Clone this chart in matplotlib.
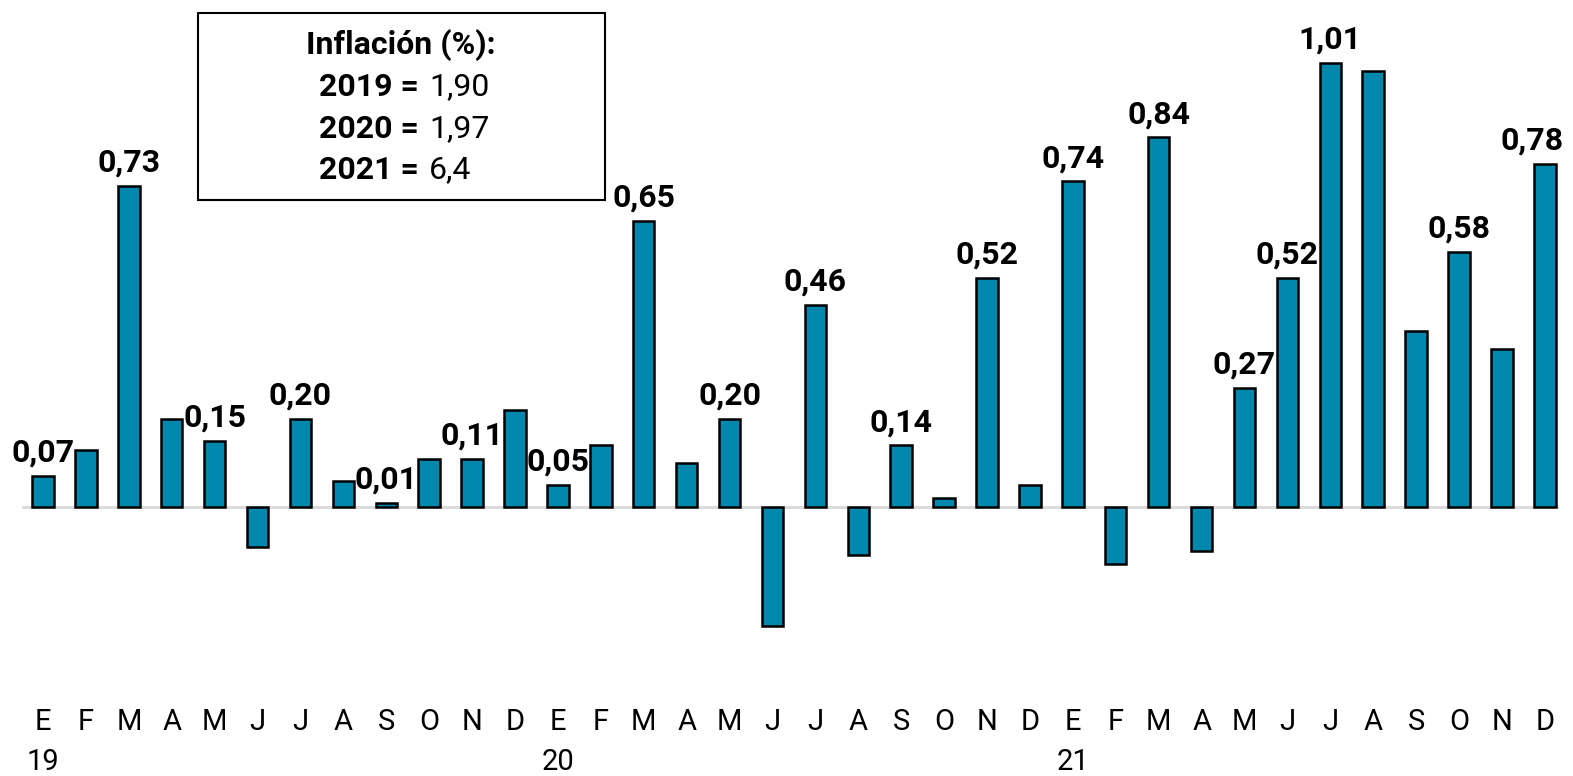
import matplotlib.pyplot as plt
import matplotlib.patches as patches
import matplotlib.transforms as transforms
import numpy as np

plt.rcParams["font.family"] = ["Roboto", "DejaVu Sans"]

# monthly inflation (%), E-2019 .. D-2021
months = ["E", "F", "M", "A", "M", "J", "J", "A", "S", "O", "N", "D"] * 3
years = ["19", "20", "21"]
values = [0.07, 0.13, 0.73, 0.20, 0.15, -0.09, 0.20, 0.06, 0.01, 0.11, 0.11, 0.22,
          0.05, 0.14, 0.65, 0.10, 0.20, -0.27, 0.46, -0.11, 0.14, 0.02, 0.52, 0.05,
          0.74, -0.13, 0.84, -0.10, 0.27, 0.52, 1.01, 0.99, 0.40, 0.58, 0.36, 0.78]
# bars that carry a value label
labelled = [0, 2, 4, 6, 8, 10, 12, 14, 16, 18, 20, 22, 24, 26, 28, 29, 30, 33, 35]

box_title = "Inflación (%):"
box_years = ["2019 =", "2020 =", "2021 ="]
box_vals = ["1,90", "1,97", "6,4"]

W, H = 1573, 776
fig = plt.figure(figsize=(W / 100, H / 100), dpi=100)
ax = fig.add_axes([0, 0, 1, 1])
ax.axis("off")

x = np.arange(len(values))
step = 42.91
ax.set_xlim(-43 / step, (W - 43) / step)
ax.set_ylim((507 - H) / 440, 507 / 440)

ax.axhline(0, xmin=23 / W, xmax=1557 / W, color="#d9d9d9", lw=2, zorder=1)
rects = ax.bar(x, values, 0.5, color="#0087ae", edgecolor="black", lw=1.8, zorder=2)

for i in labelled:
    lab = ("%.2f" % values[i]).replace(".", ",")
    dx = -9 if i == len(values) - 1 else 0   # last label pulled in from the edge
    ax.annotate(lab, (x[i], values[i]), xytext=(dx, 6), textcoords="offset points",
                ha="center", va="bottom", fontsize=23, fontweight="bold", color="black")

trans = transforms.blended_transform_factory(ax.transData, fig.transFigure)
for i, m in enumerate(months):
    ax.text(x[i], 1 - 722 / H, m, transform=trans, ha="center", va="center",
            fontsize=21, color="black")
for k, yr in enumerate(years):
    ax.text(x[k * 12], 1 - 762 / H, yr, transform=trans, ha="center", va="center",
            fontsize=21, color="black")

# summary box
box = patches.Rectangle((198 / W, 1 - 200 / H), 407 / W, 187 / H, transform=fig.transFigure,
                        fill=False, edgecolor="black", lw=1.5)
fig.add_artist(box)
fig.text(401 / W, 1 - 45 / H, box_title, ha="center", va="center", fontsize=23, fontweight="bold")
for j in range(3):
    yy = 1 - (87 + 41.5 * j) / H
    fig.text(419 / W, yy, box_years[j], ha="right", va="center", fontsize=23, fontweight="bold")
    fig.text(429 / W, yy, box_vals[j], ha="left", va="center", fontsize=23)

plt.savefig("out.png", dpi=100)
